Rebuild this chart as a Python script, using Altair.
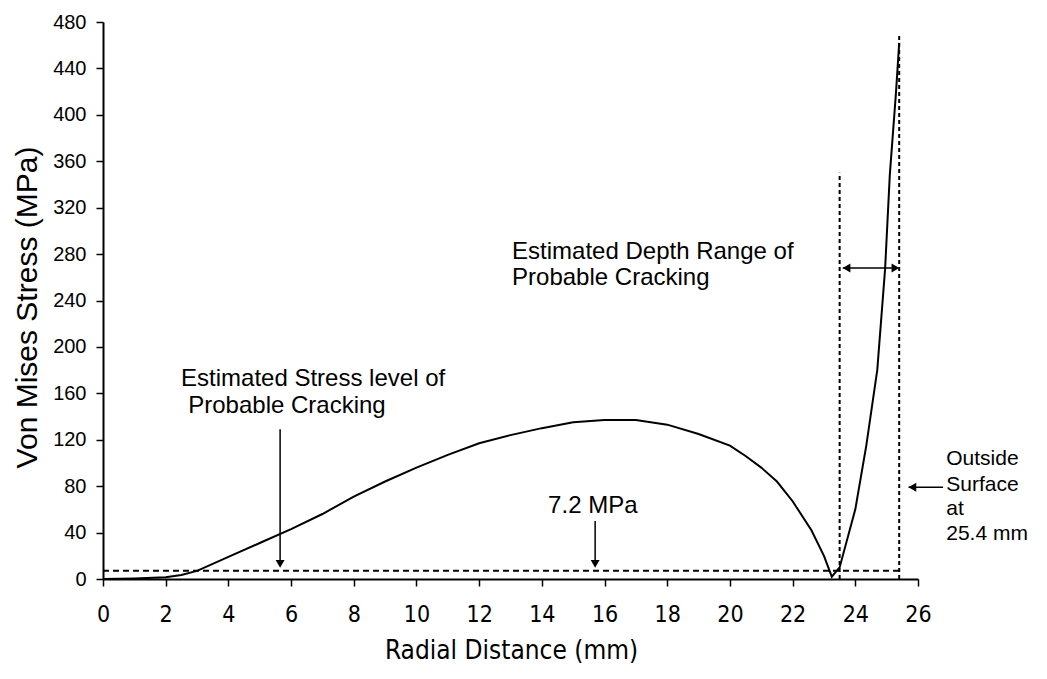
import altair as alt
import pandas as pd

# ---- data ----
radial_mm = [0, 1, 2, 2.5, 3, 4, 5, 6, 7, 8, 9, 10, 11, 12, 13, 14, 15, 16, 17,
             18, 19, 20, 20.5, 21, 21.5, 22, 22.6, 23.0, 23.25, 23.5, 24.0,
             24.35, 24.7, 24.95, 25.1, 25.3, 25.4]
stress_mpa = [0, 0.5, 1.5, 3.5, 7, 19, 31, 43, 56, 71, 84, 96, 107, 117, 124,
              130, 135, 137, 137, 133, 125, 115, 106, 96, 84, 67, 42, 20, 2, 10,
              60, 115, 180, 267, 348, 420, 462]

x_ticks = list(range(0, 27, 2))
y_ticks = list(range(0, 481, 40))

threshold_mpa = 7.2
crack_depth_start = 23.5
outside_surface = 25.4

# annotation texts (main block)
label_text = ["Estimated Stress level of", "Probable Cracking", "7.2 MPa",
              "Estimated Depth Range of", "Probable Cracking"]
label_x = [2.49, 2.72, 14.2, 13.05, 13.05]
label_y = [172, 149, 63, 282, 259]

# annotation texts (outside-surface block)
side_text = ["Outside", "Surface", "at", "25.4 mm"]
side_x = [26.9, 26.9, 26.9, 26.9]
side_y = [103, 81, 60, 39]

# arrow shafts
vshaft_x = [5.65, 15.7]
vshaft_y = [129, 50]
vshaft_y2 = [12, 12]
hshaft_y = [268, 79]
hshaft_x = [23.6, 25.7]
hshaft_x2 = [25.3, 26.8]

# arrow heads
head_x = [5.65, 15.7, 23.72, 25.28, 25.82]
head_y = [13, 13, 268, 268, 79]
head_shape = ["triangle-down", "triangle-down", "triangle-left",
              "triangle-right", "triangle-left"]

# dashed guide lines
dash_h = pd.DataFrame({"x": [0], "x2": [outside_surface], "y": [threshold_mpa]})
dash_v = pd.DataFrame({"x": [crack_depth_start, outside_surface],
                       "y": [0, 0], "y2": [350, 470]})

curve = pd.DataFrame({"r": radial_mm, "s": stress_mpa})
labels = pd.DataFrame({"x": label_x, "y": label_y, "t": label_text})
side = pd.DataFrame({"x": side_x, "y": side_y, "t": side_text})
vshaft = pd.DataFrame({"x": vshaft_x, "y": vshaft_y, "y2": vshaft_y2})
hshaft = pd.DataFrame({"x": hshaft_x, "x2": hshaft_x2, "y": hshaft_y})
heads = pd.DataFrame({"x": head_x, "y": head_y, "shape": head_shape})

TXT = "Liberation Sans"
NARROW = "Liberation Sans Narrow, DejaVu Sans Condensed, Liberation Sans"

xscale = alt.Scale(domain=[0, 26], nice=False, zero=False)
yscale = alt.Scale(domain=[0, 480], nice=False)

xaxis = alt.Axis(values=x_ticks, title="Radial Distance (mm)", grid=False,
                 domainColor="black", domainWidth=2, tickColor="black",
                 tickWidth=1.5, tickSize=7, labelFont=NARROW, labelFontSize=23,
                 labelColor="black", labelPadding=28, labelBaseline="middle",
                 labelFlush=False,
                 titleFont=NARROW, titleFontSize=26, titleFontWeight="normal",
                 titleColor="black", titleX=408, titleY=71,
                 titleBaseline="middle", titleAlign="center")
yaxis = alt.Axis(values=y_ticks, title="Von Mises Stress (MPa)", grid=False,
                 domainColor="black", domainWidth=2, tickColor="black",
                 tickWidth=1.5, tickSize=7, labelFont=TXT, labelFontSize=20,
                 labelColor="black", labelPadding=10, labelBaseline="middle",
                 labelFlush=False,
                 titleFont=TXT, titleFontSize=30, titleFontWeight="normal",
                 titleColor="black", titleX=-76, titleY=285, titleAngle=270,
                 titleBaseline="middle", titleAlign="center")

line = alt.Chart(curve).mark_line(color="black", strokeWidth=2).encode(
    x=alt.X("r:Q", scale=xscale, axis=xaxis),
    y=alt.Y("s:Q", scale=yscale, axis=yaxis),
)

dh = alt.Chart(dash_h).mark_rule(color="black", strokeWidth=2,
                                 strokeDash=[6, 4]).encode(
    x=alt.X("x:Q", scale=xscale), x2="x2:Q", y=alt.Y("y:Q", scale=yscale))
dv = alt.Chart(dash_v).mark_rule(color="black", strokeWidth=2,
                                 strokeDash=[4, 3]).encode(
    x=alt.X("x:Q", scale=xscale), y=alt.Y("y:Q", scale=yscale), y2="y2:Q")

vs = alt.Chart(vshaft).mark_rule(color="black", strokeWidth=1.5).encode(
    x=alt.X("x:Q", scale=xscale), y=alt.Y("y:Q", scale=yscale), y2="y2:Q")
hs = alt.Chart(hshaft).mark_rule(color="black", strokeWidth=1.5).encode(
    x=alt.X("x:Q", scale=xscale), x2="x2:Q", y=alt.Y("y:Q", scale=yscale))

hd = alt.Chart(heads).mark_point(filled=True, color="black", opacity=1,
                                 size=80).encode(
    x=alt.X("x:Q", scale=xscale), y=alt.Y("y:Q", scale=yscale),
    shape=alt.Shape("shape:N", scale=None, legend=None))

txt = alt.Chart(labels).mark_text(font=TXT, fontSize=24, color="black",
                                  align="left", baseline="middle").encode(
    x=alt.X("x:Q", scale=xscale), y=alt.Y("y:Q", scale=yscale), text="t:N")

side_txt = alt.Chart(side).mark_text(font=TXT, fontSize=21, color="black",
                                     align="left", baseline="middle").encode(
    x=alt.X("x:Q", scale=xscale), y=alt.Y("y:Q", scale=yscale), text="t:N")

chart = alt.layer(dh, dv, line, vs, hs, hd, txt, side_txt).properties(
    width=815, height=557,
    autosize=alt.AutoSizeParams(type="none"),
    padding={"left": 95, "top": 14, "right": 121, "bottom": 92},
    background="white",
).configure_view(stroke=None)

chart.save("out.html", embed_options={"renderer": "svg", "actions": False})
